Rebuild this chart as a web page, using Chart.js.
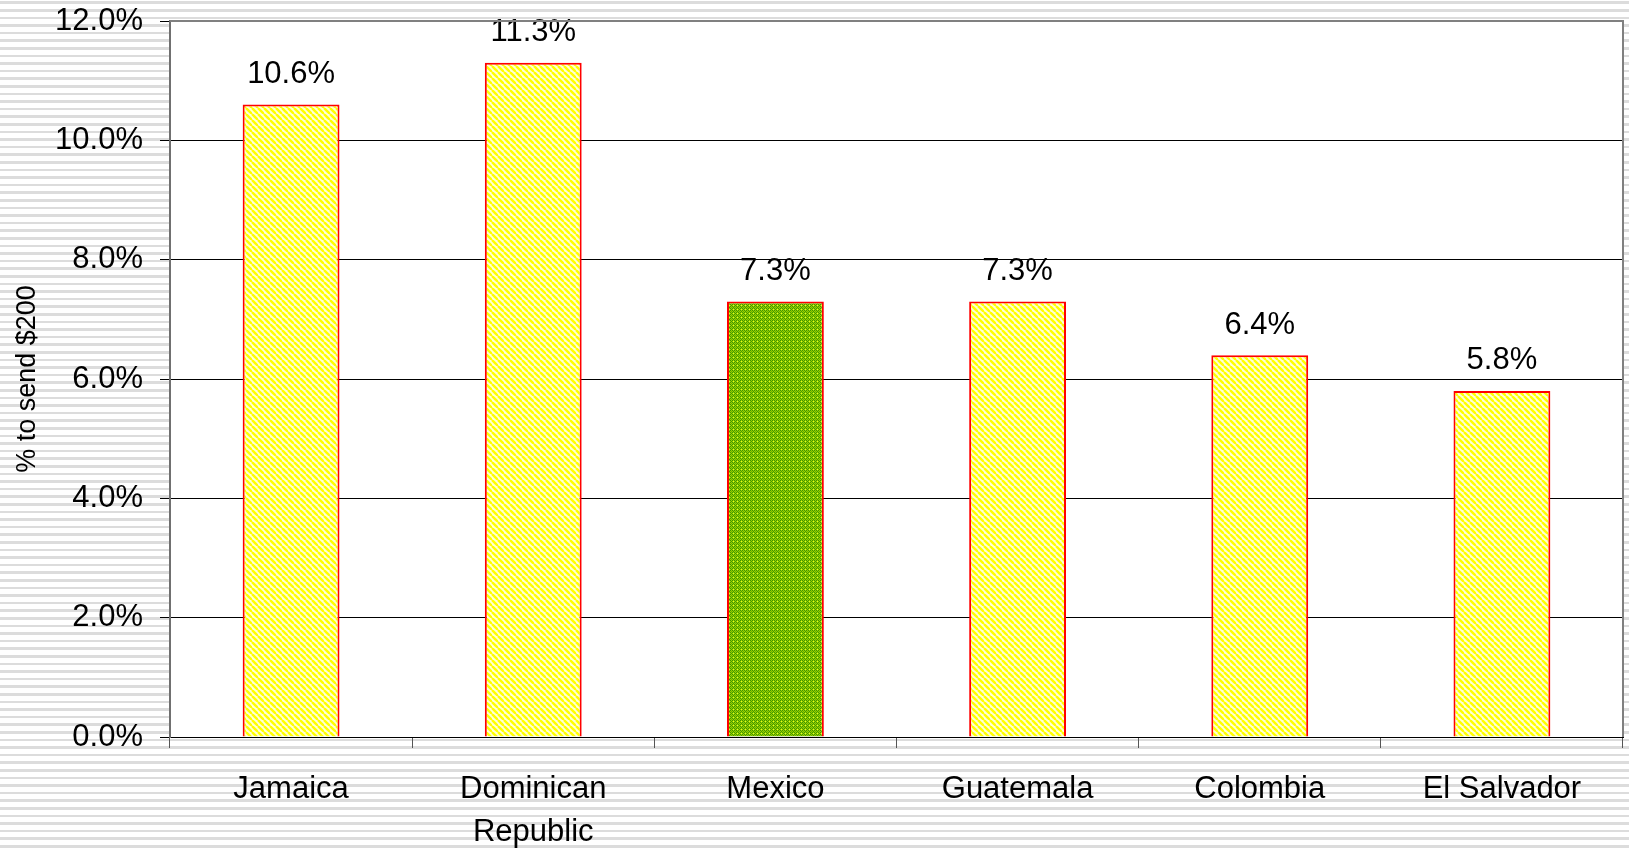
<!DOCTYPE html>
<html lang="en">
<head>
    <meta charset="UTF-8">
    <title>Cost to send $200</title>
    <script src="https://cdn.jsdelivr.net/npm/chart.js"></script>
    <style>
        html, body {
            margin: 0;
            padding: 0;
            width: 1629px;
            height: 849px;
            overflow: hidden;
            /* grey pinstripe backdrop */
            background: repeating-linear-gradient(to bottom,
                #ffffff 0px, #ffffff 1.5px,
                #dcdcdc 1.5px, #dcdcdc 4px,
                #ffffff 4px, #ffffff 7.6px);
        }
        #wrap { width: 1629px; height: 849px; }
    </style>
</head>
<body>
    <div id="wrap"><canvas id="costChart"></canvas></div>

    <script>
        // Cost of sending $200, as a share of the amount sent
        const countries = ['Jamaica', ['Dominican', 'Republic'], 'Mexico', 'Guatemala', 'Colombia', 'El Salvador'];
        const costPct = [10.6, 11.3, 7.3, 7.3, 6.4, 5.8];
        const highlighted = 'Mexico';
        const yMin = 0, yMax = 12, yStep = 2;

        const FONT = 'Liberation Sans, Arial, sans-serif';

        // Yellow bars: thin diagonal stripes
        function stripePattern() {
            const c = document.createElement('canvas');
            c.width = 6; c.height = 6;
            const g = c.getContext('2d');
            g.fillStyle = '#ffffd8';
            g.fillRect(0, 0, 6, 6);
            g.strokeStyle = '#ffff00';
            g.lineWidth = 2.4;
            for (const off of [-6, 0, 6]) {
                g.beginPath();
                g.moveTo(off, 0);
                g.lineTo(off + 6, 6);
                g.stroke();
            }
            return g.createPattern(c, 'repeat');
        }

        // Highlighted bar: fine green checker with yellow specks
        function checkerPattern() {
            const c = document.createElement('canvas');
            c.width = 4; c.height = 4;
            const g = c.getContext('2d');
            const cells = [
                ['#3f9900', '#99cc00', '#3f9900', '#99cc00'],
                ['#99cc00', '#ddff22', '#99cc00', '#3f9900'],
                ['#3f9900', '#99cc00', '#3f9900', '#99cc00'],
                ['#99cc00', '#3f9900', '#99cc00', '#66b300']
            ];
            cells.forEach((row, y) => row.forEach((col, x) => {
                g.fillStyle = col;
                g.fillRect(x, y, 1, 1);
            }));
            return g.createPattern(c, 'repeat');
        }

        const yellowFill = stripePattern();
        const greenFill = checkerPattern();
        const fills = countries.map(c => (c === highlighted ? greenFill : yellowFill));

        // White plot area with grey top and right edges
        const plotFrame = {
            id: 'plotFrame',
            beforeDraw(chart) {
                const { ctx, chartArea: a } = chart;
                ctx.save();
                ctx.fillStyle = '#ffffff';
                ctx.fillRect(a.left, a.top, a.right - a.left, a.bottom - a.top);
                ctx.restore();
            },
            afterDraw(chart) {
                const { ctx, chartArea: a } = chart;
                ctx.save();
                ctx.strokeStyle = '#808080';
                ctx.lineWidth = 2;
                ctx.beginPath();
                ctx.moveTo(a.left, a.top);
                ctx.lineTo(a.right, a.top);
                ctx.lineTo(a.right, a.bottom);
                ctx.stroke();
                ctx.restore();
            }
        };

        // Value labels above each bar
        const valueLabels = {
            id: 'valueLabels',
            afterDatasetsDraw(chart) {
                const { ctx } = chart;
                const meta = chart.getDatasetMeta(0);
                ctx.save();
                ctx.font = '31px ' + FONT;
                ctx.fillStyle = '#000';
                ctx.textAlign = 'center';
                ctx.textBaseline = 'middle';
                meta.data.forEach((bar, i) => {
                    ctx.fillText(costPct[i].toFixed(1) + '%', bar.x, bar.y - 30);
                });
                ctx.restore();
            }
        };

        new Chart(document.getElementById('costChart'), {
            type: 'bar',
            data: {
                labels: countries,
                datasets: [{
                    data: costPct,
                    backgroundColor: fills,
                    borderColor: '#ff0000',
                    borderWidth: 2,
                    borderSkipped: 'bottom',
                    categoryPercentage: 1,
                    barPercentage: 0.4
                }]
            },
            options: {
                responsive: true,
                maintainAspectRatio: false,
                animation: false,
                devicePixelRatio: 1,
                layout: { padding: { left: 0, top: 21, right: 6, bottom: 0 } },
                plugins: {
                    legend: { display: false },
                    tooltip: { enabled: false }
                },
                scales: {
                    x: {
                        afterFit(scale) {
                            scale.height = 112;
                            scale.paddingLeft = 0;
                            scale.paddingRight = 0;
                        },
                        border: { color: '#000', width: 1 },
                        grid: {
                            drawOnChartArea: false,
                            offset: true,
                            tickLength: 11,
                            color: '#555'
                        },
                        ticks: {
                            color: '#000',
                            padding: 20,
                            maxRotation: 0,
                            autoSkip: false,
                            font: { family: FONT, size: 31, lineHeight: 1.38 }
                        }
                    },
                    y: {
                        min: yMin,
                        max: yMax,
                        afterFit(scale) {
                            scale.width = 170;
                            // keep the top label from pushing the plot down
                            scale.paddingTop = 0;
                            scale.paddingBottom = 0;
                        },
                        border: { color: '#707070', width: 2 },
                        grid: {
                            color: ctx => (ctx.tick && ctx.tick.value === yMax ? '#808080' : '#000'),
                            tickColor: '#000',
                            tickLength: 10
                        },
                        ticks: {
                            stepSize: yStep,
                            color: '#000',
                            padding: 17,
                            font: { family: FONT, size: 31 },
                            callback: v => v.toFixed(1) + '%'
                        },
                        title: {
                            display: true,
                            text: '% to send $200',
                            color: '#000',
                            padding: { top: 11, bottom: 0 },
                            font: { family: FONT, size: 27 }
                        }
                    }
                }
            },
            plugins: [plotFrame, valueLabels]
        });
    </script>
</body>
</html>
